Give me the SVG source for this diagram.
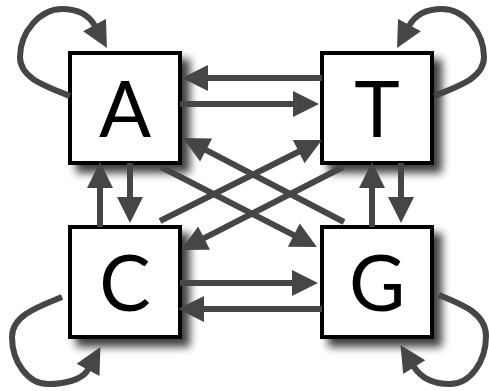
<svg xmlns="http://www.w3.org/2000/svg" width="489" height="391" viewBox="0 0 489 391">
<style>
.box{fill:#fff;stroke:#000;stroke-width:4;filter:url(#sh)}
.lbl{font-family:"Lato","Noto Sans",sans-serif;font-size:77px;fill:#000;text-anchor:middle}
.edge{fill:none;stroke:#464646;stroke-width:6;marker-end:url(#ah)}
</style>
<defs>
<filter id="sh" x="-20%" y="-20%" width="150%" height="150%">
<feDropShadow dx="8" dy="8" stdDeviation="4.5" flood-color="#000" flood-opacity="0.75"/>
</filter>
<marker id="ah" markerUnits="userSpaceOnUse" markerWidth="27" markerHeight="26" refX="1" refY="13" orient="auto" overflow="visible">
<path d="M0,0 L26,13 L0,26 Z" fill="#464646"/>
</marker>
</defs>
<g id="node-A"><rect class="box" x="70" y="53" width="110" height="110"/><text class="lbl" x="125" y="137">A</text></g>
<g id="node-T"><rect class="box" x="322" y="53" width="110" height="110"/><text class="lbl" x="377" y="137">T</text></g>
<g id="node-C"><rect class="box" x="70" y="227" width="110" height="110"/><text class="lbl" x="125" y="311">C</text></g>
<g id="node-G"><rect class="box" x="322" y="227" width="110" height="110"/><text class="lbl" x="377" y="311">G</text></g>
<g id="connectors">
<path class="edge" d="M322,78 H207"/>
<path class="edge" d="M180,104 H294"/>
<path class="edge" d="M180,283 H293"/>
<path class="edge" d="M322,309 H203"/>
<path class="edge" d="M100,227 V187"/>
<path class="edge" d="M130,163 V198"/>
<path class="edge" d="M372,227 V187"/>
<path class="edge" d="M401,163 V198"/>
<path class="edge" d="M161,167 L294.7,235.6"/>
<path class="edge" d="M344,222 L205.2,149.6"/>
<path class="edge" d="M160,221 L299.6,151.2"/>
<path class="edge" d="M343,167 L203.2,238.6"/>
<path class="edge" d="M70,96 C45,86 20,78 20,57 C20,32 40,9 62,9 C78,9 89,15 95,26"/>
<path class="edge" d="M434,96 C459,86 484,78 484,57 C484,32 464,9 442,9 C426,9 415,15 409,26"/>
<path class="edge" d="M62,297 C40,306 12,315 12,337 C12,362 28,384 48,384 C62,384 82,381 88.5,369"/>
<path class="edge" d="M439,295 C458,303 486,312 486,336 C486,362 470,384 450,384 C434,384 421,378 413.7,366.3"/>
</g>
</svg>
